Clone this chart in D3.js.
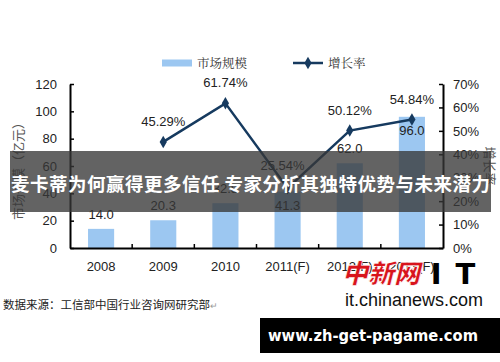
<!DOCTYPE html>
<html><head><meta charset="utf-8">
<script src="https://cdn.jsdelivr.net/npm/d3@7/dist/d3.min.js"></script>
<style>
html,body{margin:0;padding:0;background:#fff;}
svg{display:block;}
</style></head>
<body>
<svg id="c" width="500" height="362"></svg>
<script>
const categories = ["2008","2009","2010","2011(F)","2012(F)","2013(F)"];
const marketSize = [14.0, 20.3, 32.8, 41.3, 62.0, 96.0];
const growthRate = [null, 45.29, 61.74, 25.54, 50.12, 54.84];
const barLabelPlacement = ["above","above","above","inside","above","inside"];
const leftTicks = [0,20,40,60,80,100,120];
const rightTicks = [0,10,20,30,40,50,60,70];
const legendLabels = ["市场规模","增长率"];
const leftTitle = "市场规模（亿元）";
const rightTitle = "增长率";
const sourceText = "数据来源：工信部中国行业咨询网研究部";
const bannerText = "麦卡蒂为何赢得更多信任 专家分析其独特优势与未来潜力";

const svg = d3.select("#c");
const barColor = "#9cc7f1";
const lineColor = "#163a5f";
const numFont = "'Liberation Sans', Arial, sans-serif";
const cjkFont = "'Noto Sans CJK SC', sans-serif";

const x = d3.scaleBand().domain(categories).range([70,443]).paddingInner(0.58).paddingOuter(0.29);
const yL = d3.scaleLinear().domain([0,120]).range([248,84]);
const yR = d3.scaleLinear().domain([0,70]).range([248,84]);

// bars
svg.append("g").selectAll("rect").data(categories).join("rect")
  .attr("x", d => x(d)).attr("width", x.bandwidth())
  .attr("y", (d,i) => yL(marketSize[i])).attr("height", (d,i) => yL(0) - yL(marketSize[i]))
  .attr("fill", barColor);

// bar labels
svg.append("g").selectAll("text").data(categories).join("text")
  .attr("x", d => x(d) + x.bandwidth()/2)
  .attr("y", (d,i) => barLabelPlacement[i] === "inside" ? yL(marketSize[i]) + 18 : yL(marketSize[i]) - 10)
  .attr("text-anchor","middle").attr("font-family", numFont).attr("font-size", 13).attr("fill","#222")
  .text((d,i) => marketSize[i].toFixed(1));

// axes
const axL = svg.append("g").attr("transform","translate(70,0)")
  .call(d3.axisLeft(yL).tickValues(leftTicks).tickSizeInner(-4).tickSizeOuter(0).tickPadding(13));
const axR = svg.append("g").attr("transform","translate(443,0)")
  .call(d3.axisRight(yR).tickValues(rightTicks).tickFormat(d => d + "%").tickSizeInner(-4).tickSizeOuter(0).tickPadding(10));
const axB = svg.append("g").attr("transform","translate(0,248)")
  .call(d3.axisBottom(x).tickSize(0).tickPadding(14));
[axL, axR, axB].forEach(a => {
  a.select(".domain").attr("stroke","#000").attr("stroke-width",2);
  a.selectAll(".tick line").attr("stroke","#000").attr("stroke-width",1.5);
  a.selectAll("text").attr("font-family", numFont).attr("font-size", 13).attr("fill","#222");
});
axB.selectAll(".tick text").attr("dy","0.71em");
// x-axis boundary ticks (between categories)
const step = x.step();
svg.append("g").selectAll("line").data(d3.range(1, categories.length)).join("line")
  .attr("x1", i => 70 + i*step).attr("x2", i => 70 + i*step)
  .attr("y1", 248).attr("y2", 244).attr("stroke","#000").attr("stroke-width",1.5);

// growth line
const pts = categories.map((c,i) => ({c, v: growthRate[i]})).filter(d => d.v !== null);
const line = d3.line().x(d => x(d.c) + x.bandwidth()/2).y(d => yR(d.v));
svg.append("path").datum(pts).attr("d", line).attr("fill","none")
  .attr("stroke", lineColor).attr("stroke-width", 2.5);
svg.append("g").selectAll("path").data(pts).join("path")
  .attr("transform", d => `translate(${x(d.c)+x.bandwidth()/2},${yR(d.v)})`)
  .attr("d", d3.symbol(d3.symbolDiamond, 45)).attr("fill", lineColor);
svg.append("g").selectAll("text").data(pts).join("text")
  .attr("x", d => x(d.c) + x.bandwidth()/2 + (d.c === "2011(F)" ? -5 : 0))
  .attr("y", d => yR(d.v) - (d.c === "2011(F)" ? 18 : 16))
  .attr("text-anchor","middle").attr("font-family", numFont).attr("font-size", 13).attr("fill","#222")
  .text(d => d.v.toFixed(2) + "%");

// legend
const lg = svg.append("g");
lg.append("rect").attr("x",162).attr("y",59.5).attr("width",30).attr("height",7).attr("fill",barColor);
lg.append("text").attr("x",197).attr("y",68).attr("font-family","'Noto Serif CJK SC','Noto Sans CJK SC',serif")
  .attr("font-size",12.5).attr("fill","#333").text(legendLabels[0]);
lg.append("line").attr("x1",293).attr("x2",323).attr("y1",63).attr("y2",63).attr("stroke",lineColor).attr("stroke-width",2.5);
lg.append("path").attr("transform","translate(308,63)").attr("d", d3.symbol(d3.symbolDiamond,45)).attr("fill",lineColor);
lg.append("text").attr("x",328).attr("y",68).attr("font-family","'Noto Serif CJK SC','Noto Sans CJK SC',serif")
  .attr("font-size",12.5).attr("fill","#333").text(legendLabels[1]);

// axis titles
svg.append("text").attr("transform","translate(23,168) rotate(-90)").attr("text-anchor","middle")
  .attr("font-family", cjkFont).attr("font-size",13).attr("fill","#555").text(leftTitle);
svg.append("text").attr("transform","translate(485,166) rotate(90)").attr("text-anchor","middle")
  .attr("font-family", cjkFont).attr("font-size",13).attr("fill","#555").text(rightTitle);

// source
const src = svg.append("text").attr("x",3).attr("y",309).attr("font-family", cjkFont).attr("font-size",11.5).attr("fill","#222");
src.append("tspan").text(sourceText);
src.append("tspan").attr("font-size",9).attr("fill","#999").text("↵");

// watermark
svg.append("text").attr("x",381).attr("y",283).attr("text-anchor","middle")
  .attr("font-family", cjkFont).attr("font-weight",900).attr("font-style","italic").attr("font-size",26)
  .attr("fill","#d8141c").attr("stroke","#fff").attr("stroke-width",0.6).text("中新网");
svg.append("text").attr("x",460).attr("y",284).attr("text-anchor","middle")
  .attr("font-family","'DejaVu Sans', sans-serif").attr("font-weight",900).attr("font-size",29)
  .attr("letter-spacing",14).attr("fill","#000").text("IT");
svg.append("text").attr("x",483).attr("y",306).attr("text-anchor","end")
  .attr("font-family", numFont).attr("font-size",18).attr("fill","#111").text("it.chinanews.com");
svg.append("rect").attr("x",260).attr("y",318).attr("width",240).attr("height",35).attr("fill","#000");
svg.append("text").attr("x",268).attr("y",341).attr("font-family","'DejaVu Sans', sans-serif")
  .attr("font-weight","bold").attr("font-size",16.5).attr("textLength",210).attr("lengthAdjust","spacingAndGlyphs")
  .attr("fill","#fff").text("www.zh-get-pagame.com");

// banner overlay
svg.append("rect").attr("x",10).attr("y",151).attr("width",481).attr("height",61).attr("fill","rgba(55,55,55,0.78)");
svg.append("text").attr("x",11).attr("y",191).attr("font-family", cjkFont).attr("font-weight","bold")
  .attr("font-size",18.5).attr("textLength",479).attr("lengthAdjust","spacing").attr("fill","#fff").text(bannerText);
</script>
</body></html>
